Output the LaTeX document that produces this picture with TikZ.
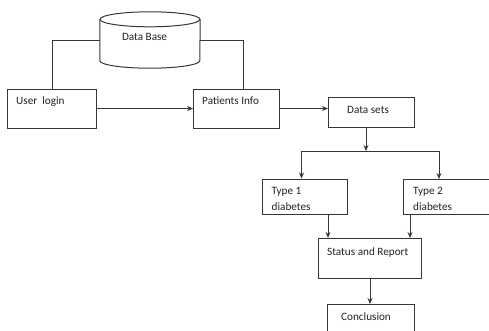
\documentclass[tikz,border=0pt]{standalone}
\usepackage{fontspec}
\setmainfont{Carlito}
\usepackage{tikz}
\usetikzlibrary{shapes.geometric,arrows.meta,positioning,calc}
\usepackage{xcolor}
\definecolor{lineclr}{HTML}{363636}
\definecolor{textclr}{HTML}{222222}

\tikzset{
  procbox/.style={draw=lineclr, line width=1pt, rectangle, anchor=north west, inner sep=0pt},
  boxtext/.style={anchor=base west, inner sep=0pt, align=left, text=textclr, font=\fontsize{11.2}{16.5}\selectfont},
  link/.style={draw=lineclr, line width=1pt},
  arr/.style={link, -{Stealth[length=6pt, width=5pt]}}
}

\begin{document}
\begin{tikzpicture}[x=1pt, y=-1pt]
  \useasboundingbox (0,0) rectangle (489,330);

  % Data base store
  \node[inner sep=0pt, minimum width=100pt, minimum height=56pt,
        label={[boxtext, xshift=22pt, yshift=-29pt]north west:Data Base}] (db) at (150,40) {};
  \draw[link] ($(db.north)+(0,7.5)$) ellipse [x radius=50pt, y radius=7.5pt];
  \draw[link] ($(db.north west)+(0,7.5)$) -- ($(db.south west)+(0,-7.5)$)
    arc [start angle=180, end angle=360, x radius=50pt, y radius=7.5pt]
    -- ($(db.north east)+(0,7.5)$);

  % Boxes
  \node[procbox, minimum width=89pt, minimum height=39pt,
        label={[boxtext, xshift=9pt, yshift=-15.8pt]north west:User\ \ login}] (login) at (7,88.5) {};
  \node[procbox, minimum width=86pt, minimum height=39pt,
        label={[boxtext, xshift=9pt, yshift=-15.8pt]north west:Patients Info}] (patients) at (193,88.5) {};
  \node[procbox, minimum width=86pt, minimum height=30pt,
        label={[boxtext, xshift=19pt, yshift=-16pt]north west:Data sets}] (datasets) at (328,97) {};
  \node[procbox, minimum width=85pt, minimum height=35.5pt,
        label={[boxtext, xshift=9.5pt, yshift=-32.3pt]north west:Type 1\\diabetes}] (type1) at (262,178.5) {};
  \node[procbox, minimum width=88pt, minimum height=34.5pt,
        label={[boxtext, xshift=10pt, yshift=-31.8pt]north west:Type 2\\diabetes}] (type2) at (403,179) {};
  \node[procbox, minimum width=103pt, minimum height=40pt,
        label={[boxtext, xshift=9pt, yshift=-17pt]north west:Status and Report}] (status) at (318,238) {};
  \node[procbox, minimum width=87pt, minimum height=35pt,
        label={[boxtext, xshift=14pt, yshift=-16pt]north west:Conclusion}] (conclusion) at (327,304) {};

  % Branch points
  \coordinate (split) at (366,151);
  \coordinate (t1) at (328,0);
  \coordinate (t2) at (410,0);

  % Connectors
  \draw[link] (db.west) -| (login.north);
  \draw[link] (db.east) -| ($(patients.north)+(7,0)$);
  \draw[arr] (login.east) -- (patients.west);
  \draw[arr] (patients.east) -- (patients.east -| datasets.west);
  \draw[arr] (datasets.south -| split) -- (split);
  \draw[arr] (split) -| ($(type1.north)+(-3.5,0)$);
  \draw[arr] (split) -| ($(type2.north)+(-8.5,0)$);
  \draw[arr] (type1.south -| t1) -- (status.north -| t1);
  \draw[arr] (type2.south -| t2) -- (status.north -| t2);
  \draw[arr] (status.south) -- (status.south |- conclusion.north);
\end{tikzpicture}
\end{document}
